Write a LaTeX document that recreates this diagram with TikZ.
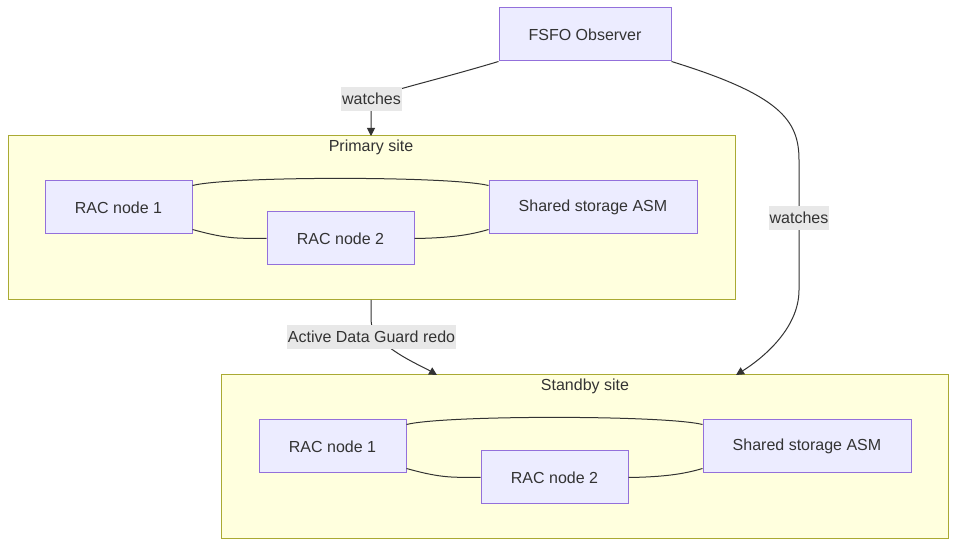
\documentclass[tikz,border=0pt]{standalone}
\usepackage{fontspec}
\setmainfont{Liberation Sans}
\usetikzlibrary{arrows.meta}
\definecolor{nfill}{HTML}{ECECFF}
\definecolor{nstroke}{HTML}{9370DB}
\definecolor{cfill}{HTML}{FFFFDE}
\definecolor{cstroke}{HTML}{AAAA33}
\definecolor{lbg}{HTML}{E8E8E8}
\definecolor{txt}{HTML}{333333}
\begin{document}
\begin{tikzpicture}[x=0.75pt,y=-0.75pt,
  box/.style={draw=nstroke,fill=nfill,line width=0.75pt,minimum height=53*0.75pt,inner sep=0pt,text=txt,font=\fontsize{12}{14}\selectfont},
  cluster/.style={draw=cstroke,fill=cfill,line width=0.75pt},
  clabel/.style={text=txt,font=\fontsize{12}{14}\selectfont},
  elabel/.style={fill=lbg,text=txt,inner xsep=0.5pt,inner ysep=0pt,minimum height=24*0.75pt,font=\fontsize{12}{14}\selectfont},
  link/.style={draw=txt,line width=0.75pt},
  arr/.style={link,-{Triangle[length=6pt,width=6pt]}}]
\useasboundingbox (0,0) rectangle (957,548);
\fill[white] (0,0) rectangle (957,548);
% clusters
\draw[cluster] (8,136) rectangle (735,300);
\node[clabel] (pl) at (371,147) {Primary site};
\draw[cluster] (221,375) rectangle (948,539);
\node[clabel] (sl) at (585,386) {Standby site};
\coordinate (ptop) at (371,136);
\coordinate (pbot) at (371,300);
\coordinate (stopa) at (437,375);
\coordinate (stopb) at (736,375);
% nodes
\node[box,minimum width=172*0.75pt] (obs) at (585,34.5) {FSFO Observer};
\node[box,minimum width=147*0.75pt] (p1) at (118.5,207.5) {RAC node 1};
\node[box,minimum width=147*0.75pt] (p2) at (340.5,238.5) {RAC node 2};
\node[box,minimum width=208*0.75pt] (ps) at (593,207.5) {Shared storage ASM};
\node[box,minimum width=147*0.75pt] (s1) at (332.5,446.5) {RAC node 1};
\node[box,minimum width=147*0.75pt] (s2) at (554.5,477.5) {RAC node 2};
\node[box,minimum width=208*0.75pt] (ss) at (807,446.5) {Shared storage ASM};
% internal links
\draw[link] ([yshift=-5*0.75pt]p1.north east) .. controls (230,176) and (450,176) .. ([yshift=-5*0.75pt]ps.north west);
\draw[link] ([yshift=5*0.75pt]p1.south east) .. controls (230,240) and (240,238) .. (p2.west);
\draw[link] (p2.east) .. controls (450,238) and (470,235) .. ([yshift=5*0.75pt]ps.south west);
\draw[link] ([yshift=-5*0.75pt]s1.north east) .. controls (444,415) and (664,415) .. ([yshift=-5*0.75pt]ss.north west);
\draw[link] ([yshift=5*0.75pt]s1.south east) .. controls (444,479) and (454,477) .. (s2.west);
\draw[link] (s2.east) .. controls (664,477) and (684,474) .. ([yshift=5*0.75pt]ss.south west);
% edges
\coordinate (w1) at (371.5,99);
\coordinate (w2) at (799,218);
\coordinate (adg) at (371.5,337);
\draw[arr] (obs.south west) .. controls (430,82) and (390,90) .. (w1) .. controls (371,112) and (371,122) .. (ptop);
\draw[arr] (obs.south east) .. controls (780,95) and (799,120) .. (799,160) -- (799,290) .. controls (799,330) and (760,360) .. (stopb);
\draw[arr] (pbot) -- (371,320) .. controls (371,345) and (420,365) .. (stopa);
\node[elabel] (w1l) at (w1) {watches};
\node[elabel] (w2l) at (w2) {watches};
\node[elabel] (adgl) at (adg) {Active Data Guard redo};
\end{tikzpicture}
\end{document}
